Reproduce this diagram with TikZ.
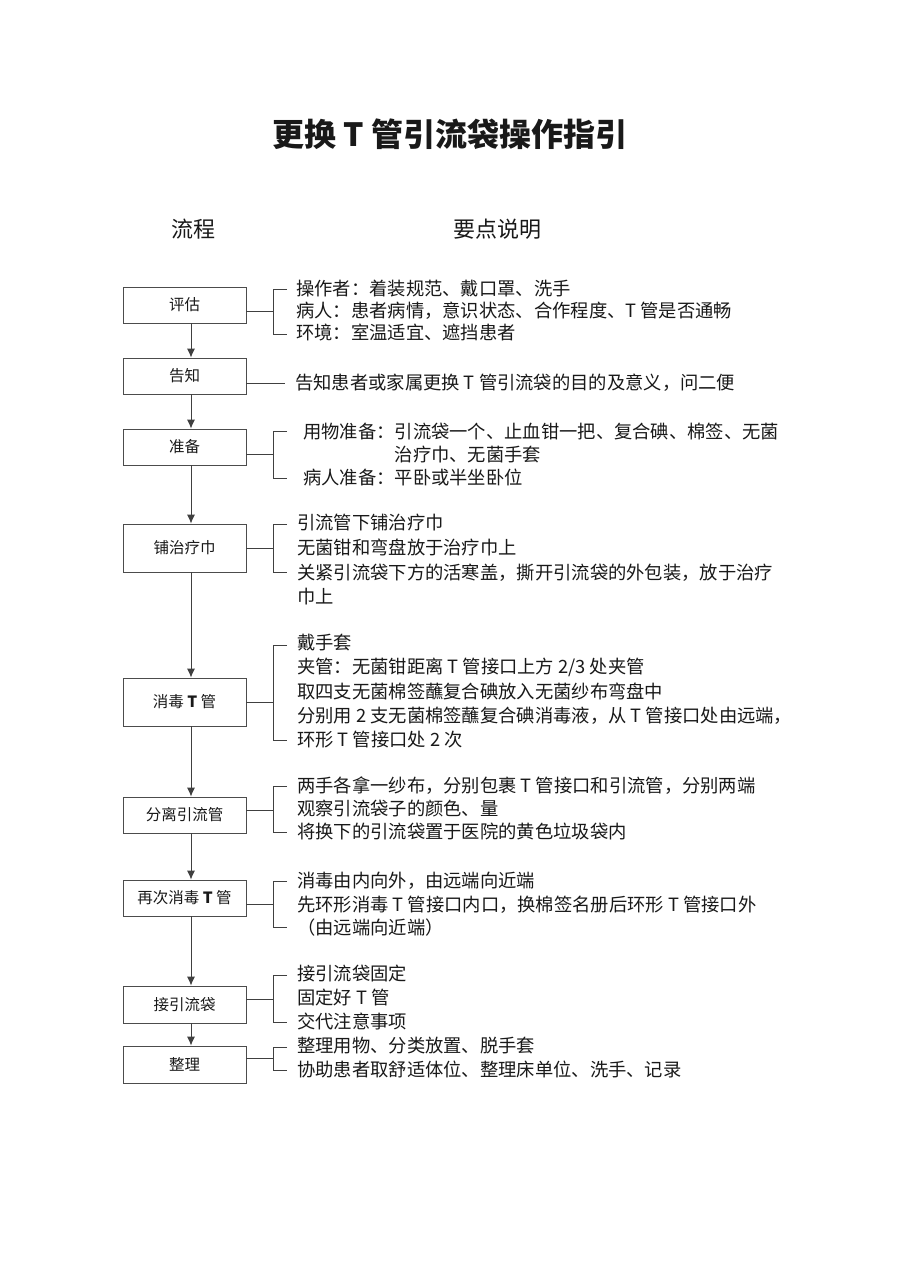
\documentclass[tikz,border=0pt]{standalone}
\usepackage{fontspec}
\setmainfont{Noto Sans CJK SC}
\usetikzlibrary{arrows.meta}

\begin{document}
\begin{tikzpicture}[
  x=1pt,y=-1pt,
  every node/.style={inner sep=0pt,text=black!90},
  flowbox/.style={draw=black!70,line width=0.8pt,minimum width=123pt,minimum height=36pt,font=\fontsize{15.5}{18}\selectfont},
  note/.style={anchor=north west,align=left},
  link/.style={draw=black!75,line width=0.9pt},
  flowarrow/.style={link,-{Latex[length=9pt,width=8pt]}}
]
  \fill[white] (0,0) rectangle (905,1280);
  \useasboundingbox (0,0) rectangle (905,1280);

  \node[font=\fontsize{32}{36}\selectfont\bfseries] (title) at (450,134) {更换 T 管引流袋操作指引};
  \node[font=\fontsize{22}{26}\selectfont] (liucheng) at (193,229) {流程};
  \node[font=\fontsize{22}{26}\selectfont] (yaodian) at (497,229) {要点说明};

  % flow column
  \node[flowbox] (pinggu) at (184.5,305) {评估};
  \node[flowbox] (gaozhi) at (184.5,376) {告知};
  \node[flowbox] (zhunbei) at (184.5,447) {准备};
  \node[flowbox,minimum height=48pt] (puzhi) at (184.5,548) {铺治疗巾};
  \node[flowbox,minimum height=48pt] (xiaodu) at (184.5,702) {消毒 \textbf{T} 管};
  \node[flowbox] (fenli) at (184.5,815) {分离引流管};
  \node[flowbox] (zaici) at (184.5,898) {再次消毒 \textbf{T} 管};
  \node[flowbox,minimum height=37pt] (jie) at (184.5,1004.5) {接引流袋};
  \node[flowbox,minimum height=37pt] (zhengli) at (184.5,1064.5) {整理};

  \draw[flowarrow] ([xshift=6.5pt]pinggu.south) -- ([xshift=6.5pt]gaozhi.north);
  \draw[flowarrow] ([xshift=6.5pt]gaozhi.south) -- ([xshift=6.5pt]zhunbei.north);
  \draw[flowarrow] ([xshift=6.5pt]zhunbei.south) -- ([xshift=6.5pt]puzhi.north);
  \draw[flowarrow] ([xshift=6.5pt]puzhi.south) -- ([xshift=6.5pt]xiaodu.north);
  \draw[flowarrow] ([xshift=6.5pt]xiaodu.south) -- ([xshift=6.5pt]fenli.north);
  \draw[flowarrow] ([xshift=6.5pt]fenli.south) -- ([xshift=6.5pt]zaici.north);
  \draw[flowarrow] ([xshift=6.5pt]zaici.south) -- ([xshift=6.5pt]jie.north);
  \draw[flowarrow] ([xshift=6.5pt]jie.south) -- ([xshift=6.5pt]zhengli.north);

  % notes
  \node[note,font=\fontsize{18.3}{22}\selectfont] (pinggu-t) at (296,280)
    {操作者：着装规范、戴口罩、洗手\\病人：患者病情，意识状态、合作程度、T 管是否通畅\\环境：室温适宜、遮挡患者};
  \node[note,font=\fontsize{18.3}{22}\selectfont] (gaozhi-t) at (295,374)
    {告知患者或家属更换 T 管引流袋的目的及意义，问二便};
  \node[note,font=\fontsize{18.3}{23}\selectfont] (zhunbei-t) at (303,423)
    {用物准备：引流袋一个、止血钳一把、复合碘、棉签、无菌\\\phantom{用物准备：}治疗巾、无菌手套\\病人准备：平卧或半坐卧位};
  \node[note,font=\fontsize{18.3}{24.7}\selectfont] (puzhi-t) at (297,514)
    {引流管下铺治疗巾\\无菌钳和弯盘放于治疗巾上\\关紧引流袋下方的活寒盖，撕开引流袋的外包装，放于治疗\\巾上};
  \node[note,font=\fontsize{18.3}{24.25}\selectfont] (xiaodu-t) at (297,634)
    {戴手套\\夹管：无菌钳距离 T 管接口上方 2/3 处夹管\\取四支无菌棉签蘸复合碘放入无菌纱布弯盘中\\分别用 2 支无菌棉签蘸复合碘消毒液，从 T 管接口处由远端，\\环形 T 管接口处 2 次};
  \node[note,font=\fontsize{18.3}{23}\selectfont] (fenli-t) at (297,777)
    {两手各拿一纱布，分别包裹 T 管接口和引流管，分别两端\\观察引流袋子的颜色、量\\将换下的引流袋置于医院的黄色垃圾袋内};
  \node[note,font=\fontsize{18.3}{23.5}\selectfont] (zaici-t) at (297,872)
    {消毒由内向外，由远端向近端\\先环形消毒 T 管接口内口，换棉签名册后环形 T 管接口外\\（由远端向近端）};
  \node[note,font=\fontsize{18.3}{24}\selectfont] (jie-t) at (297,965)
    {接引流袋固定\\固定好 T 管\\交代注意事项};
  \node[note,font=\fontsize{18.3}{24}\selectfont] (zhengli-t) at (297,1037)
    {整理用物、分类放置、脱手套\\协助患者取舒适体位、整理床单位、洗手、记录};

  % brackets
  \coordinate (pinggu-b) at (273,311.5);
  \draw[link] (pinggu.east |- pinggu-b) -- (pinggu-b);
  \draw[link] (287,289) -| (273,334) -- (287,334);

  \coordinate (gaozhi-b) at (285,383);
  \draw[link] (gaozhi.east |- gaozhi-b) -- (gaozhi-b);

  \coordinate (zhunbei-b) at (273,454.5);
  \draw[link] (zhunbei.east |- zhunbei-b) -- (zhunbei-b);
  \draw[link] (287,431) -| (273,478) -- (287,478);

  \coordinate (puzhi-b) at (273,548);
  \draw[link] (puzhi.east |- puzhi-b) -- (puzhi-b);
  \draw[link] (287,524) -| (273,572) -- (287,572);

  \coordinate (xiaodu-b) at (273,702);
  \draw[link] (xiaodu.east |- xiaodu-b) -- (xiaodu-b);
  \draw[link] (287,645) -| (273,740) -- (287,740);

  \coordinate (fenli-b) at (273,810);
  \draw[link] (fenli.east |- fenli-b) -- (fenli-b);
  \draw[link] (287,786) -| (273,832) -- (287,832);

  \coordinate (zaici-b) at (273,904);
  \draw[link] (zaici.east |- zaici-b) -- (zaici-b);
  \draw[link] (287,881) -| (273,927) -- (287,927);

  \coordinate (jie-b) at (273,999);
  \draw[link] (jie.east |- jie-b) -- (jie-b);
  \draw[link] (287,975) -| (273,1022) -- (287,1022);

  \coordinate (zhengli-b) at (273,1058.5);
  \draw[link] (zhengli.east |- zhengli-b) -- (zhengli-b);
  \draw[link] (287,1047) -| (273,1070) -- (287,1070);
\end{tikzpicture}
\end{document}
